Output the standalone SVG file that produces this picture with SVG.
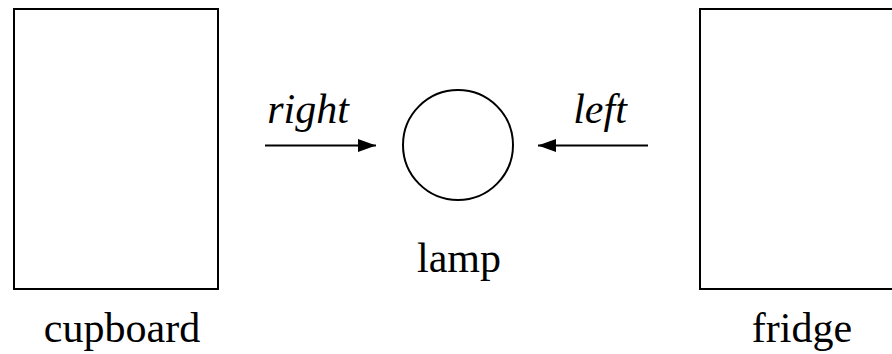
<svg xmlns="http://www.w3.org/2000/svg" width="892" height="354" viewBox="0 0 892 354">
  <style>
    .shape { fill: #fff; stroke: #000; stroke-width: 2; }
    .label { font-size: 42px; fill: #000; }
    .edge-label { font-style: italic; }
    .edge { stroke: #000; stroke-width: 2; fill: none; marker-end: url(#arrow); }
  </style>
  <defs>
    <marker id="arrow" markerWidth="18" markerHeight="13" refX="18" refY="6.5" orient="auto" markerUnits="userSpaceOnUse">
      <path d="M0,0 L18,6.5 L0,13 Z" fill="#000"/>
    </marker>
  </defs>
  <rect width="892" height="354" fill="#fff"/>

  <g font-family="Liberation Serif, Times New Roman, DejaVu Serif, serif">
    <g id="cupboard">
      <rect class="shape" x="14" y="9" width="204" height="280"/>
      <text class="label" x="122" y="342" text-anchor="middle">cupboard</text>
    </g>

    <g id="lamp">
      <circle class="shape" cx="458" cy="145" r="55"/>
      <text class="label" x="459" y="272" text-anchor="middle">lamp</text>
    </g>

    <g id="fridge">
      <rect class="shape" x="700" y="9" width="204" height="280"/>
      <text class="label" x="802" y="342" text-anchor="middle">fridge</text>
    </g>

    <g id="connectors">
      <line class="edge" x1="265" y1="145.5" x2="376" y2="145.5"/>
      <text class="label edge-label" x="308" y="123" text-anchor="middle">right</text>
      <line class="edge" x1="648" y1="145.5" x2="538" y2="145.5"/>
      <text class="label edge-label" x="600" y="123" text-anchor="middle">left</text>
    </g>
  </g>
</svg>
